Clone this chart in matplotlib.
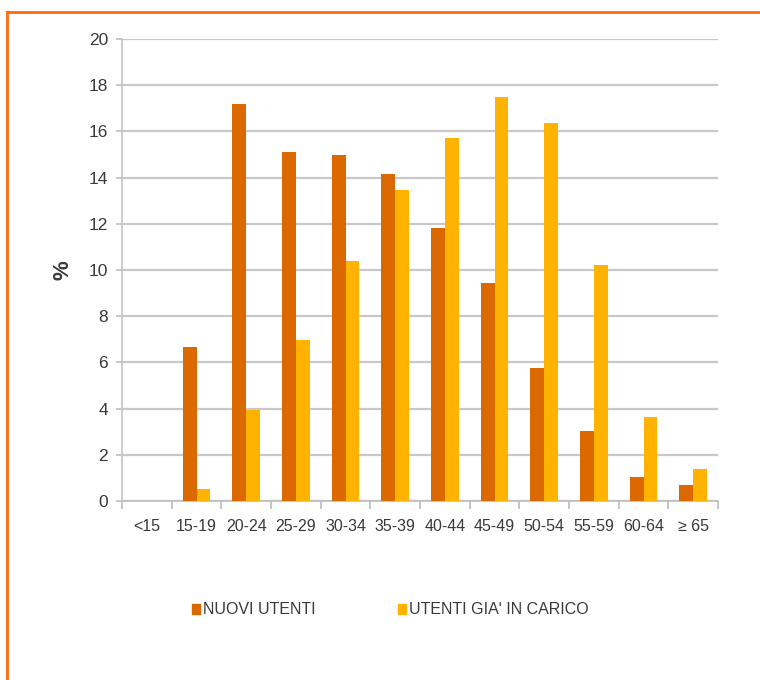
import numpy as np
import matplotlib.pyplot as plt
from matplotlib.patches import Patch
from matplotlib.lines import Line2D

# Distribuzione per classi di età (%)
classi = ['<15', '15-19', '20-24', '25-29', '30-34', '35-39', '40-44',
          '45-49', '50-54', '55-59', '60-64', '≥ 65']
nuovi_utenti = [0.0, 6.65, 17.2, 15.1, 15.0, 14.15, 11.8, 9.45, 5.75, 3.05, 1.05, 0.7]
utenti_in_carico = [0.0, 0.5, 3.95, 6.95, 10.4, 13.45, 15.7, 17.5, 16.35, 10.2, 3.65, 1.4]
serie_labels = ['NUOVI UTENTI', "UTENTI GIA' IN CARICO"]

col_nuovi = '#DC6800'
col_carico = '#FFB300'
col_testo = '#3A3A3A'

plt.rcParams['font.family'] = ['Liberation Sans Narrow', 'Liberation Sans', 'DejaVu Sans']

fig = plt.figure(figsize=(7.6, 6.8), dpi=100)
ax = fig.add_axes([122 / 760, 1 - 501 / 680, 596 / 760, 462 / 680])

x = np.arange(len(classi))
w = 0.276
ax.bar(x - w / 2, nuovi_utenti, width=w, color=col_nuovi, zorder=3)
ax.bar(x + w / 2, utenti_in_carico, width=w, color=col_carico, zorder=3)

ax.set_xlim(-0.5, len(classi) - 0.5)
ax.set_ylim(0, 20)
ax.set_yticks(range(0, 21, 2))
ax.yaxis.grid(True, color='#C8C8C8', linewidth=1.6, zorder=0)
ax.set_axisbelow(True)

# etichette al centro, tacche ai bordi delle categorie
ax.set_xticks(x)
ax.set_xticklabels(classi)
ax.set_xticks(np.arange(-0.5, len(classi)), minor=True)
ax.tick_params(axis='x', which='major', length=0, pad=13, labelsize=11.5, labelcolor=col_testo)
ax.tick_params(axis='x', which='minor', length=6, color='#BDBDBD', width=1.2)
ax.tick_params(axis='y', length=4, color='#BDBDBD', width=1.2, pad=6, labelsize=12.5, labelcolor=col_testo)

for s in ['top', 'right']:
    ax.spines[s].set_visible(False)
ax.spines['left'].set_color('#C4C4C4')
ax.spines['bottom'].set_color('#BDBDBD')
ax.spines['left'].set_linewidth(1.2)
ax.spines['bottom'].set_linewidth(1.2)

ax.set_ylabel('%', fontsize=16, fontweight='bold', color=col_testo)
ax.yaxis.set_label_coords(-0.082, 0.5)

handles = [Patch(color=col_nuovi), Patch(color=col_carico)]
fig.legend(handles, serie_labels, loc='center left', bbox_to_anchor=(178 / 760, 1 - 610 / 680),
           ncol=2, frameon=False, fontsize=11.5, handlelength=0.45, handleheight=0.6,
           handletextpad=0.2, columnspacing=5.2, labelcolor=col_testo)

# cornice arancione
fig.add_artist(Line2D([7 / 760, 1], [1 - 12 / 680, 1 - 12 / 680], color='#FF6A0A', linewidth=2,
                      transform=fig.transFigure))
fig.add_artist(Line2D([7 / 760, 7 / 760], [0, 1 - 12 / 680], color='#FF6A0A', linewidth=2,
                      transform=fig.transFigure))

fig.savefig('out.png', dpi=100)
